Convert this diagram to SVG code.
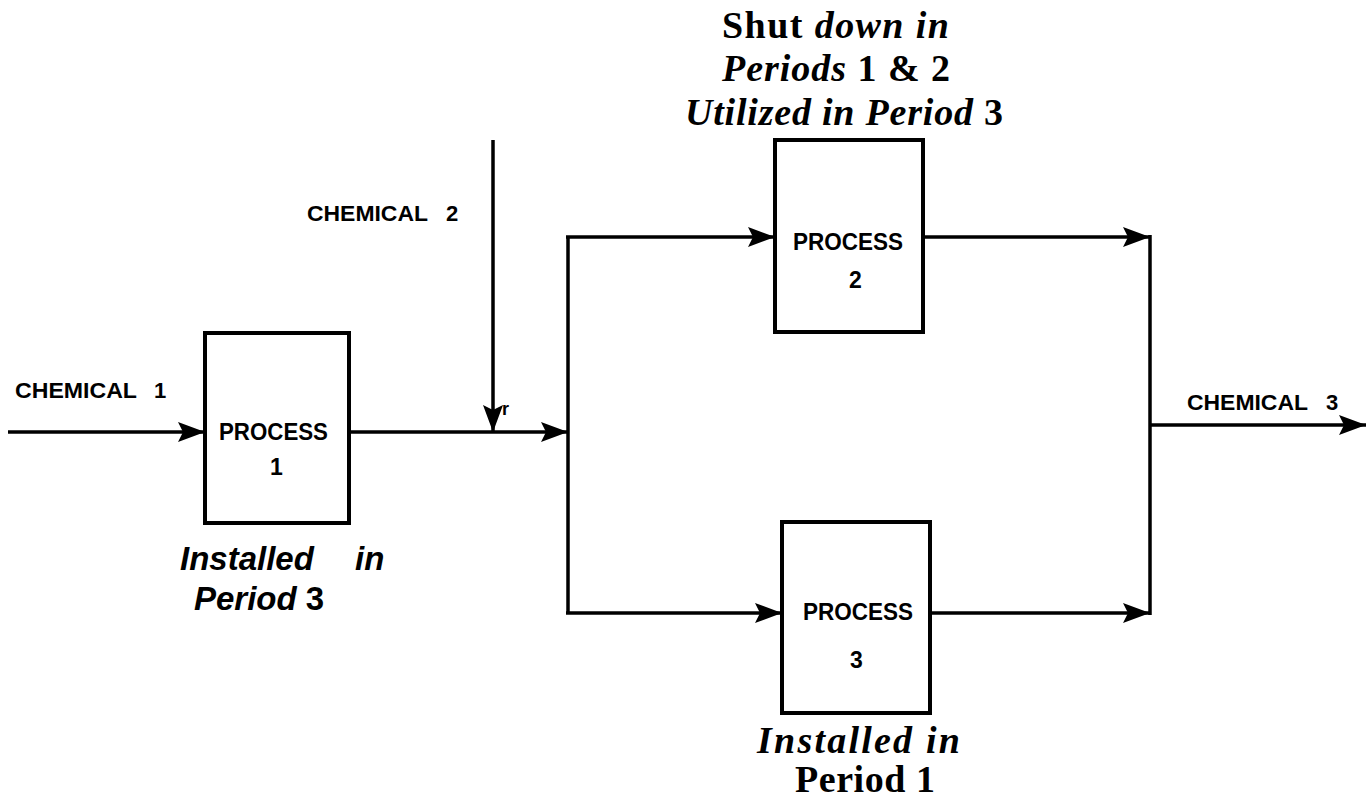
<svg xmlns="http://www.w3.org/2000/svg" width="1371" height="798" viewBox="0 0 1371 798">
<style>
.box{fill:#fff;stroke:#000;stroke-width:4}
.ln{fill:none;stroke:#000;stroke-width:3.5}
.lbl{font-family:"Liberation Sans",Arial,sans-serif;font-weight:bold;font-size:22px;fill:#000}
.ptxt{font-family:"Liberation Sans",Arial,sans-serif;font-weight:bold;font-size:23px;fill:#000}
.ser{font-family:"Liberation Serif","Times New Roman",serif;font-weight:bold;font-size:38px;fill:#000}
.sans{font-family:"Liberation Sans",Arial,sans-serif;font-weight:bold;font-style:italic;font-size:33px;fill:#000}
</style>
<defs>
<marker id="ah" markerWidth="30" markerHeight="22" refX="27" refY="11" orient="auto" markerUnits="userSpaceOnUse">
<path d="M0,1 L27,11 L0,21 L5,11 Z" fill="#000"/>
</marker>
</defs>
<g id="connectors">
<line class="ln" x1="8" y1="432" x2="205" y2="432" marker-end="url(#ah)"/>
<line class="ln" x1="349" y1="432" x2="568" y2="432" marker-end="url(#ah)"/>
<line class="ln" x1="493" y1="140" x2="493" y2="432" marker-end="url(#ah)"/>
<line class="ln" x1="568" y1="236" x2="568" y2="614"/>
<line class="ln" x1="566" y1="237" x2="775" y2="237" marker-end="url(#ah)"/>
<line class="ln" x1="566" y1="613" x2="782" y2="613" marker-end="url(#ah)"/>
<line class="ln" x1="923" y1="237" x2="1150" y2="237" marker-end="url(#ah)"/>
<line class="ln" x1="930" y1="613" x2="1150" y2="613" marker-end="url(#ah)"/>
<line class="ln" x1="1150" y1="235" x2="1150" y2="615"/>
<line class="ln" x1="1150" y1="425" x2="1366" y2="425" marker-end="url(#ah)"/>
</g>
<g id="process1">
<rect class="box" x="205" y="333" width="144" height="190"/>
<text class="ptxt" x="219" y="440" textLength="109" lengthAdjust="spacingAndGlyphs">PROCESS</text>
<text class="ptxt" x="270" y="475">1</text>
</g>
<g id="process2">
<rect class="box" x="775" y="140" width="148" height="192"/>
<text class="ptxt" x="793" y="250" textLength="110" lengthAdjust="spacingAndGlyphs">PROCESS</text>
<text class="ptxt" x="849" y="288">2</text>
</g>
<g id="process3">
<rect class="box" x="782" y="522" width="148" height="191"/>
<text class="ptxt" x="803" y="620" textLength="110" lengthAdjust="spacingAndGlyphs">PROCESS</text>
<text class="ptxt" x="850" y="668">3</text>
</g>
<g id="labels">
<text class="lbl" x="15" y="398" textLength="122" lengthAdjust="spacingAndGlyphs">CHEMICAL</text>
<text class="lbl" x="154" y="398">1</text>
<text class="lbl" x="307" y="221" textLength="121" lengthAdjust="spacingAndGlyphs">CHEMICAL</text>
<text class="lbl" x="446" y="221">2</text>
<text class="lbl" x="1187" y="410" textLength="121" lengthAdjust="spacingAndGlyphs">CHEMICAL</text>
<text class="lbl" x="1326" y="410">3</text>
<text class="lbl" x="502" y="415" style="font-size:18px">r</text>
<text class="ser" x="722" y="38" textLength="227">Shut <tspan font-style="italic">down  in</tspan></text>
<text class="ser" x="722" y="81" textLength="228"><tspan font-style="italic">Periods</tspan> 1 &amp; 2</text>
<text class="ser" x="685" y="125" textLength="318"><tspan font-style="italic">Utilized in Period</tspan> 3</text>
<text class="sans" x="180" y="570">Installed</text>
<text class="sans" x="355" y="570">in</text>
<text class="sans" x="194" y="610">Period <tspan font-style="normal">3</tspan></text>
<text class="ser" x="757" y="753" font-style="italic" textLength="203">Installed  in</text>
<text class="ser" x="795" y="792" textLength="140">Period 1</text>
</g>
</svg>
